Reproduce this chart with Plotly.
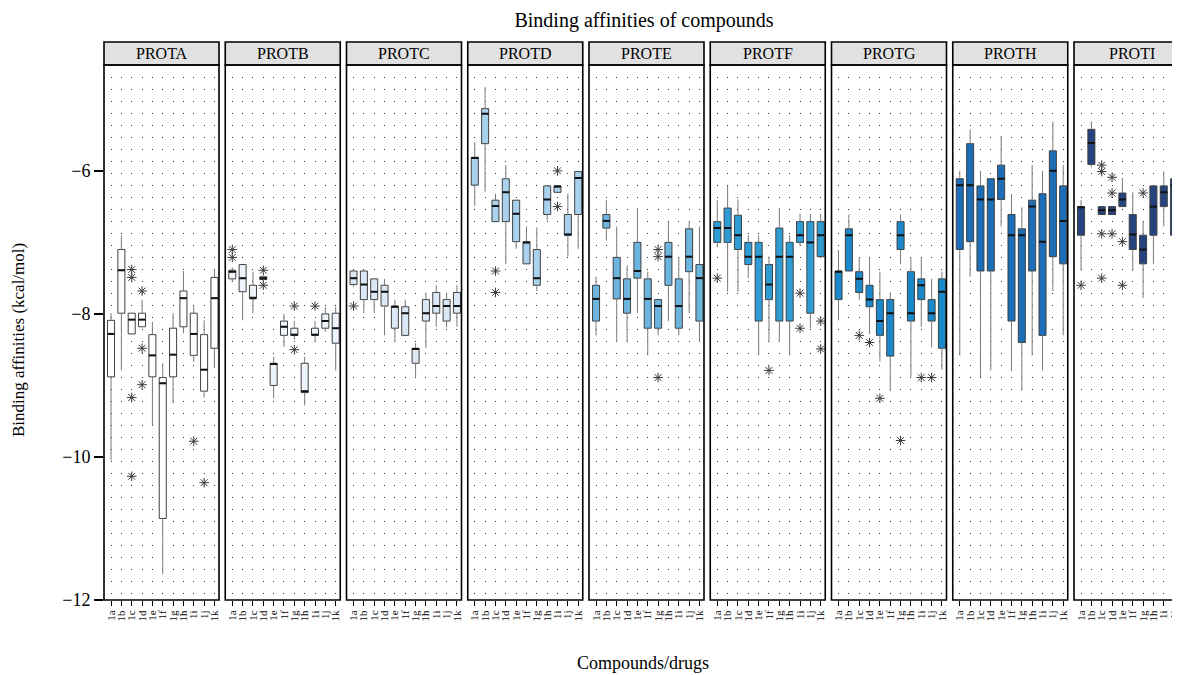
import plotly.graph_objects as go

compounds = ["1a", "1b", "1c", "1d", "1e", "1f", "1g", "1h", "1i", "1j", "1k"]
proteins = ["PROTA", "PROTB", "PROTC", "PROTD", "PROTE", "PROTF", "PROTG", "PROTH", "PROTI"]
fills = ["#ffffff", "#eef4fb", "#dbe8f5", "#a9d2ef", "#6cb5df", "#2e9dd6",
         "#1a89cb", "#1b6eb7", "#25447f"]

# box statistics (kcal/mol), one value per compound
upper = {
    "PROTA": [-7.99, -6.90, -7.99, -7.80, -8.11, -8.69, -7.99, -7.40, -7.89, -8.09, -7.39],
    "PROTB": [-7.35, -7.31, -7.41, -7.46, -8.60, -8.00, -8.10, -8.60, -8.10, -7.90, -7.90],
    "PROTC": [-7.38, -7.40, -7.51, -7.51, -7.80, -7.80, -8.41, -7.71, -7.60, -7.71, -7.60],
    "PROTD": [-5.60, -4.83, -6.32, -5.92, -6.41, -6.78, -6.79, -6.21, -6.21, -6.32, -6.01],
    "PROTE": [-7.48, -6.41, -6.78, -7.32, -6.52, -7.41, -7.80, -6.71, -7.20, -6.71, -6.78],
    "PROTF": [-6.41, -6.21, -6.40, -6.90, -6.90, -7.20, -6.52, -6.90, -6.60, -6.60, -6.60],
    "PROTG": [-7.11, -6.61, -7.22, -7.22, -7.41, -7.70, -6.61, -7.22, -7.22, -7.51, -7.41],
    "PROTH": [-6.00, -5.42, -6.00, -6.11, -5.51, -6.32, -6.51, -5.92, -6.00, -5.31, -5.92],
    "PROTI": [-6.41, -5.31, -6.50, -6.50, -6.10, -6.30, -6.71, -6.21, -6.01, -6.01],
}
q3 = {
    "PROTA": [-8.09, -7.10, -7.99, -7.99, -8.29, -8.89, -8.20, -7.68, -7.99, -8.29, -7.49],
    "PROTB": [-7.39, -7.31, -7.60, -7.48, -8.69, -8.10, -8.20, -8.69, -8.20, -8.00, -7.99],
    "PROTC": [-7.40, -7.40, -7.51, -7.60, -7.89, -7.90, -8.48, -7.80, -7.70, -7.80, -7.70],
    "PROTD": [-5.81, -5.13, -6.41, -6.11, -6.41, -6.99, -7.10, -6.21, -6.21, -6.61, -6.01],
    "PROTE": [-7.60, -6.61, -7.21, -7.51, -7.00, -7.51, -7.80, -7.00, -7.51, -6.81, -7.31],
    "PROTF": [-6.71, -6.52, -6.62, -7.00, -7.00, -7.31, -6.80, -7.00, -6.71, -6.71, -6.71],
    "PROTG": [-7.40, -6.81, -7.41, -7.60, -7.80, -7.80, -6.71, -7.41, -7.51, -7.80, -7.51],
    "PROTH": [-6.11, -5.62, -6.21, -6.11, -5.92, -6.61, -6.81, -6.41, -6.32, -5.72, -6.21],
    "PROTI": [-6.50, -5.42, -6.50, -6.50, -6.31, -6.61, -6.90, -6.21, -6.21, -6.11],
}
median = {
    "PROTA": [-8.28, -7.39, -8.08, -8.08, -8.58, -8.97, -8.57, -7.78, -8.28, -8.78, -7.78],
    "PROTB": [-7.41, -7.50, -7.78, -7.50, -8.70, -8.18, -8.29, -9.08, -8.29, -8.10, -8.20],
    "PROTC": [-7.50, -7.59, -7.69, -7.69, -7.90, -7.99, -8.49, -7.99, -7.89, -7.89, -7.89],
    "PROTD": [-5.82, -5.20, -6.49, -6.30, -6.60, -7.00, -7.50, -6.40, -6.22, -6.89, -6.10],
    "PROTE": [-7.79, -6.70, -7.50, -7.79, -7.40, -7.79, -7.89, -7.20, -7.89, -7.20, -7.50],
    "PROTF": [-6.80, -6.80, -6.90, -7.20, -7.20, -7.59, -7.20, -7.20, -6.90, -7.00, -6.90],
    "PROTG": [-7.41, -6.90, -7.51, -7.80, -8.10, -7.99, -6.90, -7.99, -7.60, -7.99, -7.69],
    "PROTH": [-6.20, -6.20, -6.40, -6.40, -6.11, -6.90, -6.90, -6.50, -6.99, -6.00, -6.70],
    "PROTI": [-6.51, -5.61, -6.55, -6.55, -6.40, -6.89, -7.10, -6.50, -6.30, -6.20],
}
q1 = {
    "PROTA": [-8.88, -7.99, -8.28, -8.18, -8.88, -10.86, -8.88, -8.18, -8.58, -9.08, -8.48],
    "PROTB": [-7.51, -7.69, -7.78, -7.52, -9.00, -8.30, -8.30, -9.10, -8.30, -8.20, -8.41],
    "PROTC": [-7.59, -7.80, -7.80, -7.89, -8.20, -8.30, -8.69, -8.10, -7.99, -8.10, -7.99],
    "PROTD": [-6.20, -5.62, -6.71, -6.71, -6.99, -7.30, -7.60, -6.61, -6.30, -6.90, -6.61],
    "PROTE": [-8.10, -6.80, -7.79, -7.99, -7.50, -8.20, -8.20, -7.60, -8.20, -7.41, -8.10],
    "PROTF": [-7.00, -7.00, -7.10, -7.31, -8.10, -7.80, -8.10, -8.10, -7.00, -7.99, -7.20],
    "PROTG": [-7.80, -7.40, -7.70, -7.90, -8.30, -8.59, -7.10, -8.10, -7.80, -8.10, -8.48],
    "PROTH": [-7.10, -6.99, -7.40, -7.40, -6.40, -8.10, -8.40, -7.40, -8.30, -7.20, -7.30],
    "PROTI": [-6.90, -5.91, -6.61, -6.61, -6.50, -7.10, -7.30, -6.90, -6.50, -6.90],
}
lower = {
    "PROTA": [-10.05, -8.79, -8.28, -8.18, -9.56, -11.64, -9.25, -8.27, -8.67, -9.17, -8.76],
    "PROTB": [-7.55, -8.09, -7.99, -7.54, -9.18, -8.46, -8.36, -9.28, -8.39, -8.25, -8.79],
    "PROTC": [-7.62, -7.99, -7.99, -8.30, -8.39, -8.30, -8.88, -8.48, -8.18, -8.19, -8.18],
    "PROTD": [-6.49, -6.29, -6.71, -7.30, -7.09, -7.30, -7.68, -6.69, -6.30, -7.20, -7.09],
    "PROTE": [-8.30, -6.97, -8.39, -8.39, -7.99, -8.58, -8.30, -8.10, -8.30, -7.99, -8.39],
    "PROTF": [-7.07, -7.69, -7.69, -7.50, -8.58, -8.39, -8.39, -8.58, -7.05, -8.20, -7.20],
    "PROTG": [-8.09, -7.40, -7.80, -8.28, -8.67, -9.08, -7.30, -8.88, -8.18, -8.47, -8.78],
    "PROTH": [-8.58, -7.48, -8.88, -8.79, -6.78, -8.80, -9.07, -8.58, -8.79, -7.68, -8.30],
    "PROTI": [-7.39, -5.95, -6.61, -6.61, -6.50, -7.40, -7.78, -7.30, -6.78, -7.30],
}
outliers = {
    "PROTA": [("1c", -7.38), ("1c", -7.49), ("1c", -9.17), ("1c", -10.27), ("1d", -7.68),
              ("1d", -8.48), ("1d", -8.99), ("1i", -9.78), ("1j", -10.36)],
    "PROTB": [("1a", -7.10), ("1a", -7.21), ("1d", -7.39), ("1d", -7.60), ("1g", -7.89),
              ("1g", -8.50), ("1i", -7.89)],
    "PROTC": [("1a", -7.89)],
    "PROTD": [("1c", -7.40), ("1c", -7.70), ("1i", -6.00), ("1i", -6.50)],
    "PROTE": [("1g", -7.10), ("1g", -7.20), ("1g", -8.89)],
    "PROTF": [("1a", -7.50), ("1f", -8.79), ("1i", -7.71), ("1i", -8.20), ("1k", -8.10),
              ("1k", -8.49)],
    "PROTG": [("1c", -8.30), ("1d", -8.40), ("1e", -9.18), ("1g", -9.77), ("1i", -8.89),
              ("1j", -8.89)],
    "PROTH": [],
    "PROTI": [("1a", -7.60), ("1c", -5.92), ("1c", -6.01), ("1c", -6.88), ("1c", -7.50),
              ("1d", -6.09), ("1d", -6.31), ("1d", -6.88), ("1e", -6.99), ("1e", -7.60),
              ("1g", -6.31)],
}
y_ticks = [-6, -8, -10, -12]

SERIF = "Liberation Serif, Times New Roman, serif"
# the page body has an 8px margin, so the figure is sized to fit the window
OFF = 8
W, H = 1180 - OFF, 675 - OFF
ML, MT = 104 - OFF, 65 - OFF
MR, MB = 0, H - (600 - OFF)
PW = W - ML - MR
PH = H - MT - MB
panel_px = 115.0
pitch = 121.25
box_w = 0.68
xr0 = -0.68
unit_px = panel_px / (10.44 - xr0)

fig = go.Figure()
layout_axes = {}
shapes = []
annotations = []

for i, p in enumerate(proteins):
    xa = "x" if i == 0 else f"x{i + 1}"
    xkey = "xaxis" if i == 0 else f"xaxis{i + 1}"
    left = i * pitch
    right = min(left + panel_px, PW)
    d0, d1 = left / PW, right / PW
    xr1 = xr0 + (right - left) / unit_px
    n = len(median[p])
    xs = list(range(n))

    # whiskers
    wx, wy = [], []
    for k in xs:
        wx += [k, k, None, k, k, None]
        wy += [q3[p][k], upper[p][k], None, q1[p][k], lower[p][k], None]
    fig.add_trace(go.Scatter(x=wx, y=wy, mode="lines", xaxis=xa, yaxis="y",
                             line=dict(color="#7a7a7a", width=1), showlegend=False,
                             hoverinfo="skip"))
    # boxes
    fig.add_trace(go.Box(x=xs, q1=q1[p], median=median[p], q3=q3[p],
                         lowerfence=q1[p], upperfence=q3[p],
                         fillcolor=fills[i], line=dict(color="#404040", width=1),
                         width=box_w, whiskerwidth=0, boxpoints=False,
                         xaxis=xa, yaxis="y", showlegend=False, name=p))
    # medians
    mx, my = [], []
    for k in xs:
        mx += [k - box_w / 2, k + box_w / 2, None]
        my += [median[p][k], median[p][k], None]
    fig.add_trace(go.Scatter(x=mx, y=my, mode="lines", xaxis=xa, yaxis="y",
                             line=dict(color="#111111", width=2), showlegend=False,
                             hoverinfo="skip"))
    # outliers
    if outliers[p]:
        fig.add_trace(go.Scatter(
            x=[compounds.index(c) for c, _ in outliers[p]],
            y=[v for _, v in outliers[p]], mode="markers", xaxis=xa, yaxis="y",
            marker=dict(symbol="asterisk-open", size=8, color="#3a3a3a",
                        line=dict(width=1, color="#3a3a3a")),
            showlegend=False))

    layout_axes[xkey] = dict(
        domain=[d0, d1], range=[xr0, xr1], anchor="y",
        tickmode="array", tickvals=list(range(len(compounds))), ticktext=compounds,
        tickangle=-90, ticks="outside", ticklen=5, tickwidth=1.2, tickcolor="black",
        tickfont=dict(family=SERIF, size=11, color="black"),
        showgrid=True, gridcolor="#333333", gridwidth=1, griddash="1px,11px",
        zeroline=False, showline=False, fixedrange=True,
    )

    last = i == len(proteins) - 1
    # strip
    shapes.append(dict(type="rect", xref="paper", yref="paper",
                       x0=d0, x1=1.02 if last else d1,
                       y0=1, y1=1 + 23 / PH,
                       fillcolor="#e2e1e2", line=dict(color="black", width=1.6)))
    # panel border
    shapes.append(dict(type="rect", xref="paper", yref="paper",
                       x0=d0, x1=1.02 if last else d1, y0=0, y1=1,
                       line=dict(color="black", width=1.6), layer="above"))
    cx = (left + panel_px / 2) / PW
    annotations.append(dict(text=p, xref="paper", yref="paper", x=cx,
                            y=1 + 11.5 / PH, showarrow=False,
                            font=dict(family=SERIF, size=16, color="black"),
                            xanchor="center", yanchor="middle"))

annotations.append(dict(text="Compounds/drugs", xref="paper", yref="paper",
                        x=(643 - 104) / PW, y=-(663 - 600) / PH, showarrow=False,
                        font=dict(family=SERIF, size=18, color="black"),
                        xanchor="center", yanchor="middle"))
annotations.append(dict(text="Binding affinities (kcal/mol)", xref="paper", yref="paper",
                        x=(19 - 104) / PW, y=(600 - 340) / PH, showarrow=False,
                        textangle=-90,
                        font=dict(family=SERIF, size=17, color="black"),
                        xanchor="center", yanchor="middle"))

fig.update_layout(
    width=W, height=H,
    margin=dict(l=ML, r=MR, t=MT, b=MB),
    paper_bgcolor="white", plot_bgcolor="white",
    title=dict(text="Binding affinities of compounds", x=(644 - OFF) / W, xanchor="center",
               y=1 - (20 - OFF) / H, yanchor="middle",
               font=dict(family=SERIF, size=20, color="black")),
    yaxis=dict(range=[-12, -4.52], tickmode="array", tickvals=y_ticks,
               ticks="outside", ticklen=9, tickwidth=1.5, tickcolor="black",
               tickfont=dict(family=SERIF, size=18, color="black"),
               showgrid=False, zeroline=False, showline=False, anchor="x",
               domain=[0, 1], fixedrange=True),
    shapes=shapes, annotations=annotations, showlegend=False,
    **layout_axes,
)

fig.write_html("out.html")
